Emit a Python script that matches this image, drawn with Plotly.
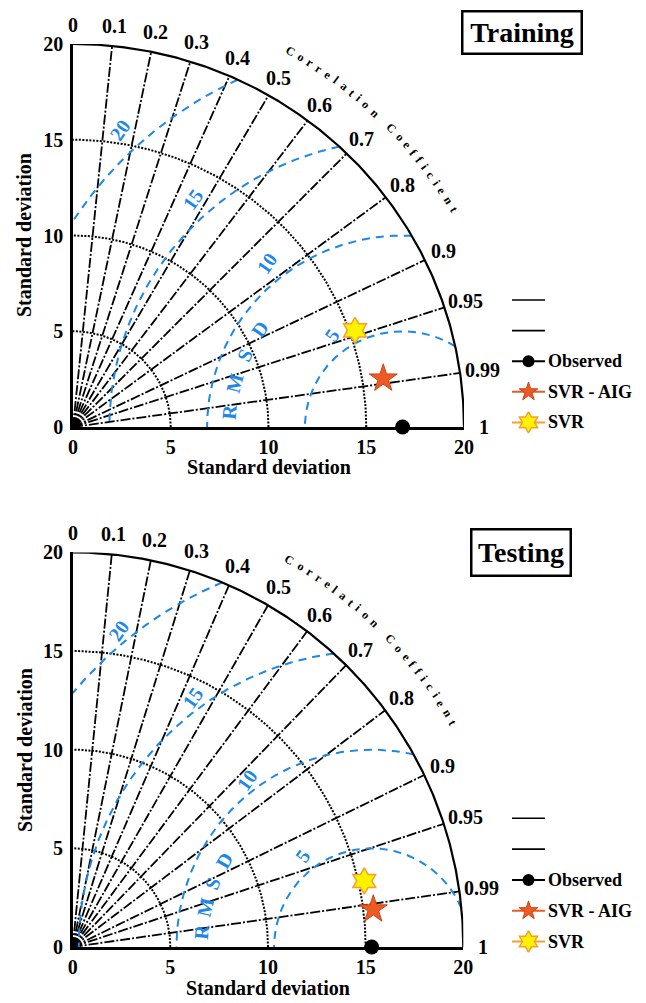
import numpy as np
import plotly.graph_objects as go

# The page body adds an 8px offset; geometry below is given in target-image pixels.
OFF = 8
W, H = 646 - OFF, 1003 - OFF
FONT = "Liberation Serif"
BLUE = "#1E88E5"
AIG_FILL = "#EE5A24"
AIG_LINE = "#C8461A"
SVR_FILL = "#FFF200"
SVR_LINE = "#F2A22B"

# ---------------- data ----------------
corr_ticks = [0.1, 0.2, 0.3, 0.4, 0.5, 0.6, 0.7, 0.8, 0.9, 0.95, 0.99]
corr_label_vals = [0.0, 0.1, 0.2, 0.3, 0.4, 0.5, 0.6, 0.7, 0.8, 0.9, 0.95, 0.99, 1.0]
corr_labels = ["0", "0.1", "0.2", "0.3", "0.4", "0.5", "0.6", "0.7", "0.8", "0.9", "0.95", "0.99", "1"]
std_ticks = [0, 5, 10, 15, 20]
std_arcs = [5, 10, 15]
std_max = 20
rmsd_levels = [5, 10, 15, 20]
models = ["Observed", "SVR - AIG", "SVR"]
train_std = [16.86, 16.07, 15.28]
train_corr = [1.0, 0.9875, 0.944]
test_std = [15.31, 15.51, 15.30]
test_corr = [1.0, 0.9924, 0.9758]
panel_titles = ["Training", "Testing"]
axis_title = "Standard deviation"
corr_title = "Correlation Coefficient"
rmsd_title = ["R", "M", "S", "D"]


def PX(px):
    return (px - OFF) / W


def PY(py):
    return 1 - (py - OFF) / H


# ---------------- layout geometry (target pixels) ----------------
panels = [
    dict(title=panel_titles[0], std=train_std, corr=train_corr, xa="x", ya="y", lxa="x3", lya="y3",
         px=(73.0, 464.0, 427.0, 44.0), box=(521.5, 33.0, 111, 34), leg_y0=300.0, leg_dy=30.6,
         rm_lab_ang=[127, 129, 132, 133], rm_lab_off=[1.0, 1.0, 1.0, 1.2],
         rm_r=8.9, rm_ang=(175, 145), xt_y=467, yt=(24, 235)),
    dict(title=panel_titles[1], std=test_std, corr=test_corr, xa="x2", ya="y2", lxa="x4", lya="y4",
         px=(72.7, 463.3, 947.0, 552.4), box=(521.0, 552.5, 91, 38), leg_y0=818.3, leg_dy=30.8,
         rm_lab_ang=[127.5, 127, 126, 129], rm_lab_off=[0.8, 0.6, 0.6, 0.6],
         rm_r=8.75, rm_ang=(175, 150), xt_y=988, yt=(25, 750)),
]

model_styles = [
    dict(symbol="circle", size=15, color="black", line=dict(width=0), lsize=12, lcolor="black"),
    dict(symbol="star", size=21, color=AIG_FILL, line=dict(width=1, color=AIG_LINE), lsize=14, lcolor=AIG_FILL),
    dict(symbol="hexagram", size=20, color=SVR_FILL, line=dict(width=1.5, color=SVR_LINE), lsize=16, lcolor=SVR_LINE),
]

fig = go.Figure()
annotations = []


def bfont(size, color="black"):
    return dict(family=FONT, size=size, color=color, weight="bold")


def ann(x, y, text, size, color="black", angle=0, xanchor="center", xref="paper", yref="paper", **kw):
    d = dict(x=x, y=y, xref=xref, yref=yref, text=text, showarrow=False, textangle=angle,
             xanchor=xanchor, yanchor="middle", font=bfont(size, color))
    d.update(kw)
    annotations.append(d)


char_w = {"C": .722, "o": .5, "r": .444, "e": .444, "l": .278, "a": .5, "t": .333,
          "i": .278, "n": .556, " ": .35, "f": .333}

for k, p in enumerate(panels):
    x0, x1, yb, yt = p["px"]

    def to_paper(x, y, x0=x0, x1=x1, yb=yb, yt=yt):
        return PX(x0 + x / std_max * (x1 - x0)), PY(yb - y / std_max * (yb - yt))

    xa, ya = p["xa"], p["ya"]
    th = np.linspace(0, np.pi / 2, 300)
    # std arcs (dotted)
    for r in std_arcs:
        fig.add_trace(go.Scatter(x=r * np.cos(th), y=r * np.sin(th), mode="lines",
                                 line=dict(color="black", width=2, dash="2px,1.5px"),
                                 xaxis=xa, yaxis=ya, hoverinfo="skip"))
    # radial correlation lines
    for c in corr_ticks:
        t = np.arccos(c)
        fig.add_trace(go.Scatter(x=[0, std_max * np.cos(t)], y=[0, std_max * np.sin(t)], mode="lines",
                                 line=dict(color="black", width=1.8, dash="10px,2px,2px,2px"),
                                 xaxis=xa, yaxis=ya, hoverinfo="skip"))
    # RMSD circles
    obs = p["std"][0]
    for r, la, lo in zip(rmsd_levels, p["rm_lab_ang"], p["rm_lab_off"]):
        cmax = (std_max ** 2 - obs ** 2 - r ** 2) / (2 * obs * r)
        a0 = np.arccos(min(1.0, max(-1.0, cmax)))
        a1 = np.arccos(max(-1.0, -obs / r))
        ph = np.linspace(a0, a1, 300)
        fig.add_trace(go.Scatter(x=obs + r * np.cos(ph), y=r * np.sin(ph), mode="lines",
                                 line=dict(color=BLUE, width=2, dash="8px,6px"),
                                 xaxis=xa, yaxis=ya, hoverinfo="skip"))
        phl = np.deg2rad(la)
        lx, ly = obs + (r + lo) * np.cos(phl), (r + lo) * np.sin(phl)
        px_, py_ = to_paper(lx, ly)
        ann(px_, py_, str(r), 20, BLUE, angle=-55)
    # RMSD title letters
    angs = np.linspace(p["rm_ang"][0], p["rm_ang"][1], len(rmsd_title))
    for ch, a in zip(rmsd_title, angs):
        ar = np.deg2rad(a)
        px_, py_ = to_paper(obs + p["rm_r"] * np.cos(ar), p["rm_r"] * np.sin(ar))
        ann(px_, py_, ch, 20, BLUE, angle=90 - a)
    # outer arc
    fig.add_trace(go.Scatter(x=std_max * np.cos(th), y=std_max * np.sin(th), mode="lines",
                             line=dict(color="black", width=2.2),
                             xaxis=xa, yaxis=ya, hoverinfo="skip"))
    # model points
    for name, s, c, st in zip(models, p["std"], p["corr"], model_styles):
        t = np.arccos(c)
        fig.add_trace(go.Scatter(x=[s * np.cos(t)], y=[s * np.sin(t)], mode="markers", name=name,
                                 marker=dict(symbol=st["symbol"], size=st["size"], color=st["color"],
                                             line=st["line"]),
                                 cliponaxis=False, xaxis=xa, yaxis=ya))
    # correlation labels
    for v, lab in zip(corr_label_vals, corr_labels):
        t = np.arccos(v)
        rr = 21.05 + 0.1 * (len(lab) - 3) if len(lab) > 1 else 21.0
        px_, py_ = to_paper(rr * np.cos(t), rr * np.sin(t))
        ann(px_, py_, lab, 20)
    # Correlation Coefficient curved title
    sp = 0.42
    ws = [char_w.get(ch, .5) for ch in corr_title]
    centers = []
    acc = 0.0
    for w_ in ws:
        centers.append(acc + w_ / 2)
        acc += w_ + sp
    centers = np.array(centers)
    frac = (centers - centers[0]) / (centers[-1] - centers[0])
    ang = 60.5 + frac * (30.3 - 60.5)
    for ch, a in zip(corr_title, ang):
        if ch == " ":
            continue
        ar = np.deg2rad(a)
        px_, py_ = to_paper(22.55 * np.cos(ar), 22.55 * np.sin(ar))
        ann(px_, py_, ch, 12, angle=90 - a)
    # axis titles
    ann(PX((x0 + x1) / 2), PY(p["xt_y"]), axis_title, 20)
    ann(PX(p["yt"][0]), PY(p["yt"][1]), axis_title, 20, angle=-90)
    # title box
    bx, by, bw, bh = p["box"]
    ann(PX(bx), PY(by), p["title"], 28, bordercolor="black", borderwidth=2.5,
        borderpad=3, width=bw, height=bh, bgcolor="white")

    # axes
    axis_common = dict(range=[0, std_max], tickvals=std_ticks, ticktext=[str(v) for v in std_ticks],
                       showline=True, linecolor="black", linewidth=2.5, ticks="", showgrid=False,
                       zeroline=False, tickfont=bfont(20), automargin=False, fixedrange=True)
    fig.update_layout(**{
        ("xaxis" if xa == "x" else "xaxis2"): dict(domain=[PX(x0), PX(x1)], anchor=ya, **axis_common),
        ("yaxis" if ya == "y" else "yaxis2"): dict(domain=[PY(yb), PY(yt)], anchor=xa,
                                                    ticklabelstandoff=3, **axis_common),
    })

    # manual legend in its own subplot (local coordinates in target pixels)
    lxa, lya = p["lxa"], p["lya"]
    ly0 = p["leg_y0"] - 20
    ly1 = p["leg_y0"] + 4 * p["leg_dy"] + 20
    fig.update_layout(**{
        "xaxis" + lxa[1:]: dict(domain=[PX(505), PX(640)], range=[505, 640], visible=False,
                                anchor=lya, fixedrange=True),
        "yaxis" + lya[1:]: dict(domain=[PY(ly1), PY(ly0)], range=[ly1, ly0], visible=False,
                                anchor=lxa, fixedrange=True),
    })
    rows = [p["leg_y0"] + i * p["leg_dy"] for i in range(5)]
    for i in range(2):
        fig.add_trace(go.Scatter(x=[512, 545], y=[rows[i], rows[i]], mode="lines",
                                 line=dict(color="black", width=1.6), xaxis=lxa, yaxis=lya,
                                 hoverinfo="skip"))
    for j, (name, st) in enumerate(zip(models, model_styles)):
        yy = rows[2 + j]
        fig.add_trace(go.Scatter(x=[512, 545], y=[yy, yy], mode="lines",
                                 line=dict(color=st["lcolor"], width=2), xaxis=lxa, yaxis=lya,
                                 hoverinfo="skip"))
        fig.add_trace(go.Scatter(x=[528.5], y=[yy], mode="markers",
                                 marker=dict(symbol=st["symbol"], size=st["lsize"], color=st["color"],
                                             line=st["line"]),
                                 cliponaxis=False, xaxis=lxa, yaxis=lya, hoverinfo="skip"))
        ann(546, yy, name, 18, xanchor="left", xref=lxa, yref=lya)

fig.update_layout(
    width=W, height=H, template="none", showlegend=False,
    margin=dict(l=0, r=0, t=0, b=0),
    paper_bgcolor="white", plot_bgcolor="rgba(0,0,0,0)",
    annotations=annotations,
)

fig.write_html("out.html")
